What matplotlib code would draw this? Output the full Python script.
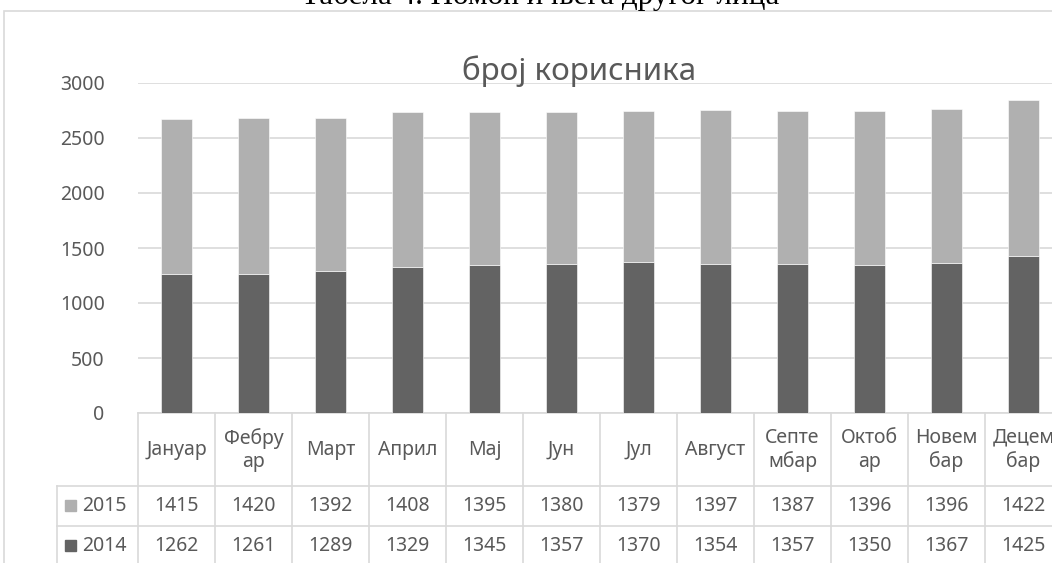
import matplotlib
matplotlib.use('Agg')
from matplotlib import pyplot as plt
from matplotlib import transforms
import numpy as np

plt.rcParams['font.family'] = ['Noto Sans', 'DejaVu Sans']

# data
months = ['Јануар', 'Фебру\nар', 'Март', 'Април', 'Мај', 'Јун', 'Јул',
          'Август', 'Септе\nмбар', 'Октоб\nар', 'Новем\nбар', 'Децем\nбар']
y2014 = [1262, 1261, 1289, 1329, 1345, 1357, 1370, 1354, 1357, 1350, 1367, 1425]
y2015 = [1415, 1420, 1392, 1408, 1395, 1380, 1379, 1397, 1387, 1396, 1396, 1422]
series = ['2015', '2014']
yticks = [0, 500, 1000, 1500, 2000, 2500, 3000]

W, H = 1052, 563
c14 = '#636363'
c15 = '#b0b0b0'
txt = '#595959'
grid = '#d9d9d9'

fig = plt.figure(figsize=(W / 100, H / 100), dpi=100)

# chart frame
fig.patches.append(plt.Rectangle((4 / W, -0.1), 1.2, (H - 11) / H + 0.1,
                                 transform=fig.transFigure, fill=False,
                                 edgecolor=grid, linewidth=1.2))
# caption above the chart, cut off at the top
fig.text(540 / W, (H - 4) / H, 'Табела 4. Помоћ и њега другог лица',
         ha='center', va='baseline', fontsize=22.4, family='Liberation Serif',
         color='black')

x0, x1 = 138, 138 + 77 * 12
ax = fig.add_axes([x0 / W, (H - 413) / H, (x1 - x0) / W, 330 / H])
x = np.arange(len(months))
ax.bar(x, y2014, width=0.4, color=c14, edgecolor='white', linewidth=0.4, zorder=3)
ax.bar(x, y2015, width=0.4, bottom=y2014, color=c15, edgecolor='white',
       linewidth=0.4, zorder=3)
ax.set_xlim(-0.5, len(months) - 0.5)
ax.set_ylim(0, 3000)
ax.set_yticks(yticks)
ax.set_xticks([])
ax.yaxis.grid(True, color=grid, linewidth=1.2)
ax.set_axisbelow(True)
for s in ax.spines.values():
    s.set_visible(False)
ax.tick_params(axis='y', length=0, pad=24, labelsize=14, labelcolor=txt)
ax.set_facecolor('none')

fig.text(579 / W, (H - 80) / H, 'број корисника', ha='center', va='baseline',
         fontsize=22.6, color=txt)

# data table under the bars
px = transforms.Affine2D().scale(1, -1).translate(0, H)
bt = transforms.blended_transform_factory(ax.transData, px)
lw = 1.2
edges = np.arange(len(months) + 1) - 0.5
for e in edges:
    ax.plot([e, e], [413, H + 5], transform=bt, color=grid, lw=lw, clip_on=False)
ax.plot([edges[0], edges[-1]], [413, 413], transform=bt, color=grid, lw=lw, clip_on=False)
for yy in [486, 526]:
    fig.lines.append(plt.Line2D([57, x1], [yy, yy], transform=px, color=grid, lw=lw))
fig.lines.append(plt.Line2D([57, 57], [486, H + 5], transform=px, color=grid, lw=lw))

for i, m in enumerate(months):
    ax.text(i, 450, m, transform=bt, ha='center', va='center', fontsize=14,
            color=txt, linespacing=1.25)
    ax.text(i, 506, str(y2015[i]), transform=bt, ha='center', va='center',
            fontsize=14, color=txt)
    ax.text(i, 546, str(y2014[i]), transform=bt, ha='center', va='center',
            fontsize=14, color=txt)

for name, col, yy in [(series[0], c15, 506), (series[1], c14, 546)]:
    fig.patches.append(plt.Rectangle((65, yy - 6), 11, 11, transform=px,
                                     color=col))
    fig.text(82, yy, name, transform=px, ha='left', va='center', fontsize=14,
             color=txt)

fig.savefig('out.png', dpi=100)
